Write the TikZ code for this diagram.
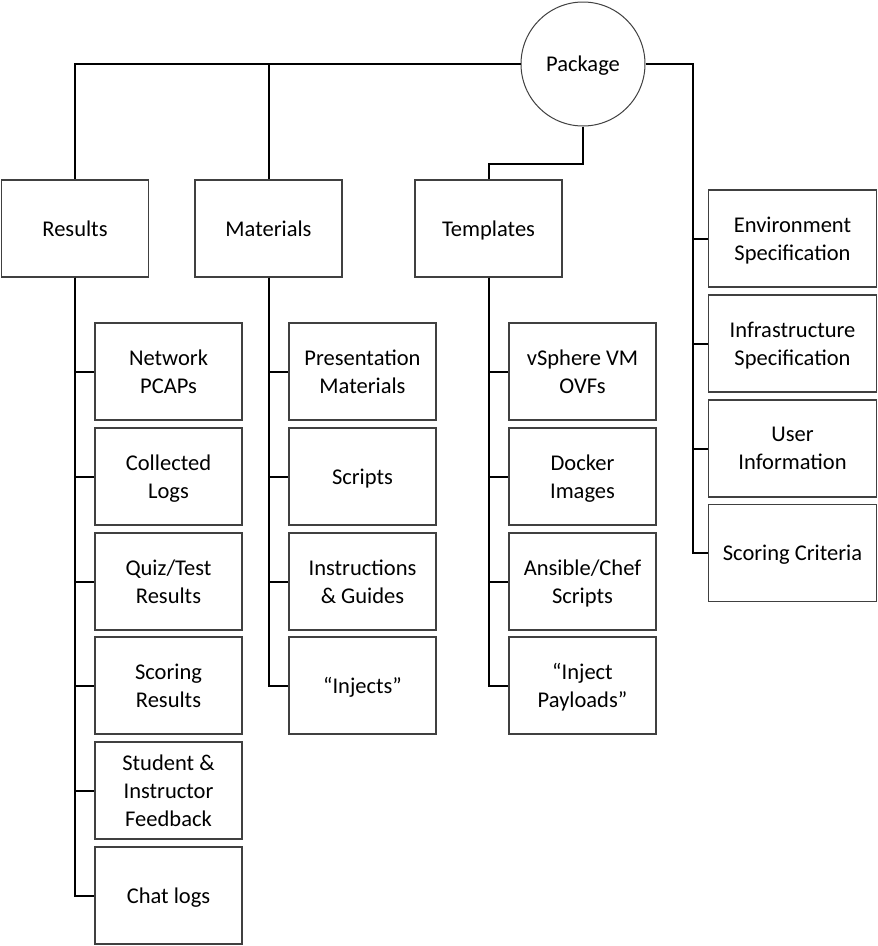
\documentclass[tikz,border=0pt]{standalone}
\usepackage{fontspec}
\setmainfont{Carlito}
\begin{document}
\begin{tikzpicture}[x=1pt,y=-1pt,
  box/.style={draw=black!75,line width=1.3pt,fill=white,minimum width=147pt,minimum height=97pt,
    align=center,inner sep=2pt,text depth=0pt,font=\fontsize{22.5}{28}\selectfont},
  conn/.style={draw=black,line width=2pt}]
\useasboundingbox (0,0) rectangle (878,946);
% root
\node[circle,draw=black!75,line width=1pt,minimum size=124pt,inner sep=0pt,text depth=0pt,font=\fontsize{22.5}{28}\selectfont] (pkg) at (583,64) {Package};
% level 1
\node[box] (results) at (75,228.5) {Results};
\node[box] (materials) at (268.5,228.5) {Materials};
\node[box] (templates) at (488.5,228.5) {Templates};
% results children
\node[box] (r1) at (168.5,371.5) {Network\\PCAPs};
\node[box] (r2) at (168.5,476.5) {Collected\\Logs};
\node[box] (r3) at (168.5,581.5) {Quiz/Test\\Results};
\node[box] (r4) at (168.5,685.5) {Scoring\\Results};
\node[box] (r5) at (168.5,790.5) {Student \&\\Instructor\\Feedback};
\node[box] (r6) at (168.5,895.5) {Chat logs};
% materials children
\node[box] (m1) at (362.5,371.5) {Presentation\\Materials};
\node[box] (m2) at (362.5,476.5) {Scripts};
\node[box] (m3) at (362.5,581.5) {Instructions\\\& Guides};
\node[box] (m4) at (362.5,685.5) {“Injects”};
% templates children
\node[box] (t1) at (582.5,371.5) {vSphere VM\\OVFs};
\node[box] (t2) at (582.5,476.5) {Docker\\Images};
\node[box] (t3) at (582.5,581.5) {Ansible/Chef\\Scripts};
\node[box] (t4) at (582.5,685.5) {“Inject\\Payloads”};
% right column
\node[box,minimum width=168pt] (e1) at (792.5,238.5) {Environment\\Specification};
\node[box,minimum width=168pt] (e2) at (792.5,343.5) {Infrastructure\\Specification};
\node[box,minimum width=168pt] (e3) at (792.5,448.5) {User\\Information};
\node[box,minimum width=168pt] (e4) at (792.5,553) {Scoring Criteria};
% connectors
\coordinate (tj) at (583,164);
\coordinate (rt) at (693,64);
\draw[conn] (pkg.west) -| (results.north);
\draw[conn] (pkg.west) -| (materials.north);
\draw[conn] (pkg.south) -- (tj) -| (templates.north);
\draw[conn] (pkg.east) -- (rt) |- (e4.west);
\foreach \n in {e1,e2,e3} \draw[conn] (rt) |- (\n.west);
\foreach \n in {r1,r2,r3,r4,r5,r6} \draw[conn] (results.south) |- (\n.west);
\foreach \n in {m1,m2,m3,m4} \draw[conn] (materials.south) |- (\n.west);
\foreach \n in {t1,t2,t3,t4} \draw[conn] (templates.south) |- (\n.west);
\end{tikzpicture}
\end{document}
